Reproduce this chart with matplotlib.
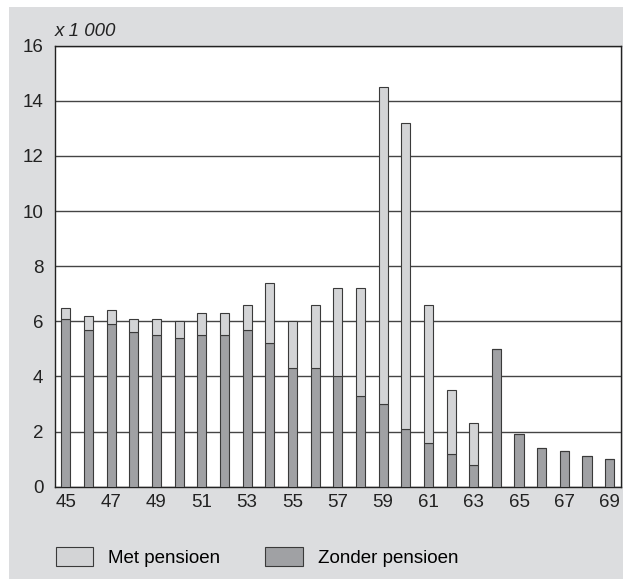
import matplotlib
matplotlib.use("Agg")
import matplotlib.pyplot as plt
from matplotlib.patches import Rectangle, Patch

ages = list(range(45, 70))
zonder = [6.1, 5.7, 5.9, 5.6, 5.5, 5.4, 5.5, 5.5, 5.7, 5.2, 4.3, 4.3, 4.0, 3.3, 3.0,
          2.1, 1.6, 1.2, 0.8, 5.0, 1.9, 1.4, 1.3, 1.1, 1.0]
totaal = [6.5, 6.2, 6.4, 6.1, 6.1, 6.0, 6.3, 6.3, 6.6, 7.4, 6.0, 6.6, 7.2, 7.2, 14.5,
          13.2, 6.6, 3.5, 2.3, 5.0, 1.9, 1.4, 1.3, 1.1, 1.0]
met = [round(t - z, 2) for t, z in zip(totaal, zonder)]
xtick_labels = [str(a) for a in range(45, 70, 2)]
yticks = [0, 2, 4, 6, 8, 10, 12, 14, 16]

plt.rcParams['font.family'] = ['Liberation Sans', 'DejaVu Sans']
FS = 13.5
W, H = 623, 579
fig = plt.figure(figsize=(W / 100, H / 100), dpi=100, facecolor='white')
bg = '#dcdddf'
fig.patches.append(Rectangle((9 / W, 0), 1 - 9 / W, 1 - 7 / H, transform=fig.transFigure,
                             facecolor=bg, edgecolor='none', zorder=-10))

ax = fig.add_axes([54.5 / W, (H - 486.7) / H, (621 - 54.5) / W, (486.7 - 45.7) / H])
ax.set_facecolor('white')
dark = '#a0a1a4'
light = '#d3d4d6'
edge = '#3a3a3a'
ax.bar(ages, zonder, width=0.4, color=dark, edgecolor=edge, linewidth=0.8, zorder=3)
ax.bar(ages, met, bottom=zonder, width=0.4, color=light, edgecolor=edge, linewidth=0.8, zorder=3)

ax.set_xlim(44.5, 69.5)
ax.set_ylim(0, 16)
ax.set_yticks(yticks)
ax.set_yticklabels([str(v) for v in yticks], fontsize=FS)
ax.set_xticks(list(range(45, 70, 2)))
ax.set_xticklabels(xtick_labels, fontsize=FS)
ax.tick_params(axis='both', length=0, colors='#222222')
ax.tick_params(axis='y', pad=8)
ax.tick_params(axis='x', pad=5)
ax.yaxis.grid(True, color='#444444', linewidth=1.0, zorder=0)
ax.set_axisbelow(True)
for s in ax.spines.values():
    s.set_color('#222222')
    s.set_linewidth(1.0)

fig.text(55 / W, 1 - 31 / H, 'x 1 000', fontsize=FS, style='italic', va='center', ha='left',
         color='#222222')

handles = [Patch(facecolor=light, edgecolor=edge, linewidth=0.8, label='Met pensioen'),
           Patch(facecolor=dark, edgecolor=edge, linewidth=0.8, label='Zonder pensioen')]
fig.legend(handles=handles, loc='center left', bbox_to_anchor=(55.7 / W, 1 - 557 / H),
           ncol=2, frameon=False, fontsize=FS, handlelength=2.0, handleheight=1.17,
           handletextpad=0.8, columnspacing=2.4, borderaxespad=0, borderpad=0)

fig.savefig('out.png', dpi=100, facecolor='white')
